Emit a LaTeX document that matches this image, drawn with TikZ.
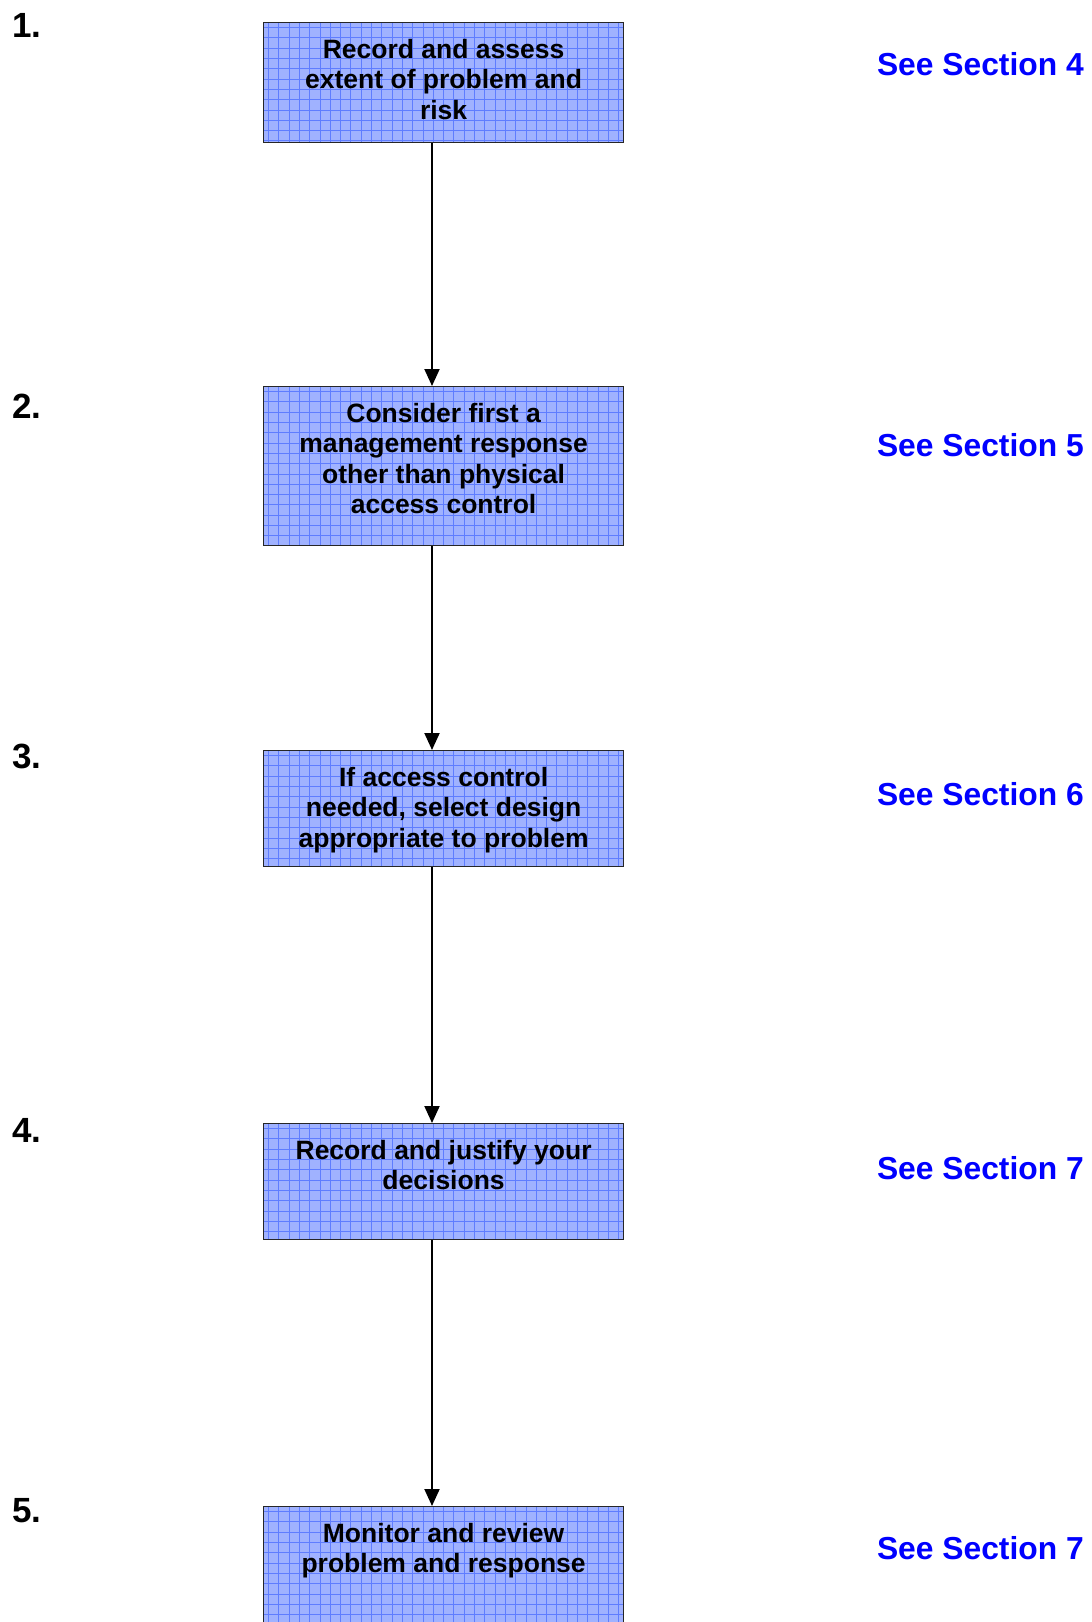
\documentclass[tikz,border=0pt]{standalone}
\usepackage{fontspec}
\setmainfont{Liberation Sans}
\usetikzlibrary{arrows.meta}
\definecolor{boxfill}{RGB}{160,178,255}
\definecolor{gridblue}{RGB}{95,125,255}
\newcommand{\boxbody}[2]{\parbox[t][#1][t]{330pt}{\centering #2}}

\begin{document}
\begin{tikzpicture}[x=1pt,y=-1pt,
    stage/.style={draw=black!85, line width=1.2pt, fill=boxfill, anchor=north west,
      inner xsep=15pt, inner ysep=16.5pt, minimum width=360pt,
      font=\fontsize{26.5}{30.5}\selectfont\bfseries,
      path picture={\draw[gridblue, line width=0.6pt] (path picture bounding box.south west) grid[step=10.3pt] (path picture bounding box.north east);}},
    num/.style={anchor=west, inner sep=0pt, font=\fontsize{35}{38}\selectfont\bfseries},
    seeref/.style={anchor=east, inner sep=0pt, text=blue, font=\fontsize{31.8}{34}\selectfont\bfseries},
    flow/.style={line width=2pt, -{Triangle[width=15pt,length=17pt]}}]
    \useasboundingbox (0,0) rectangle (1092,1622); %
    \clip (0,0) rectangle (1092,1622); %

    \node[stage] (record) at (263,22) {\boxbody{87pt}{Record and assess\\ extent of problem and\\ risk}}; %
    \node[stage] (manage) at (263,386) {\boxbody{126pt}{Consider first a\\ management response\\ other than physical\\ access control}}; %
    \node[stage] (design) at (263,750) {\boxbody{83pt}{If access control\\ needed, select design\\ appropriate to problem}}; %
    \node[stage] (justify) at (263,1123) {\boxbody{83pt}{Record and justify your\\ decisions}}; %
    \node[stage] (monitor) at (263,1506) {\boxbody{150pt}{Monitor and review\\ problem and response}}; %

    \node[num] (n1) at (12,25) {1.}; %
    \node[num] (n2) at (12,406) {2.}; %
    \node[num] (n3) at (12,756) {3.}; %
    \node[num] (n4) at (12,1130) {4.}; %
    \node[num] (n5) at (12,1511) {5.}; %

    \node[seeref] (s1) at (1084,64) {See Section 4}; %
    \node[seeref] (s2) at (1084,445) {See Section 5}; %
    \node[seeref] (s3) at (1084,794) {See Section 6}; %
    \node[seeref] (s4) at (1084,1168) {See Section 7}; %
    \node[seeref] (s5) at (1084,1548) {See Section 7}; %

    \coordinate (ax) at (432,0); %
    \draw[flow] (record.south -| ax) -- (manage.north -| ax); %
    \draw[flow] (manage.south -| ax) -- (design.north -| ax); %
    \draw[flow] (design.south -| ax) -- (justify.north -| ax); %
    \draw[flow] (justify.south -| ax) -- (monitor.north -| ax); %
\end{tikzpicture}
\end{document}
